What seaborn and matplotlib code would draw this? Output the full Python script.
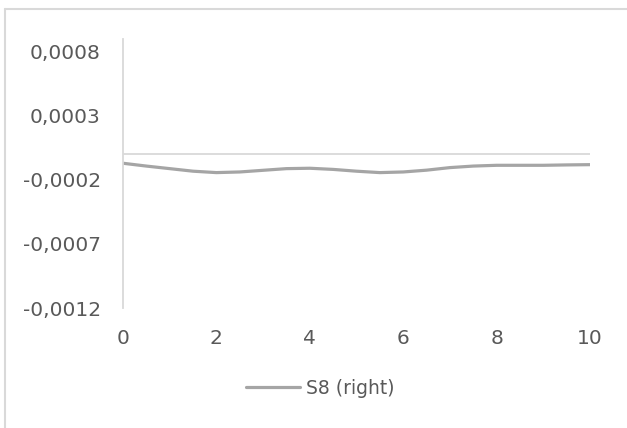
#!/usr/bin/python3

import numpy as np
import pandas as pd
import matplotlib
matplotlib.use("Agg")
import matplotlib.pyplot as plt
import seaborn as sns
from matplotlib.lines import Line2D
from matplotlib.ticker import FuncFormatter

# values
x_values = [0, 0.5, 1, 1.5, 2, 2.5, 3, 3.5, 4, 4.5, 5,
            5.5, 6, 6.5, 7, 7.5, 8, 8.5, 9, 9.5, 10]
s8_values = [-0.000070, -0.000092, -0.000112, -0.000132, -0.000143, -0.000138,
             -0.000125, -0.000112, -0.000109, -0.000118, -0.000132, -0.000143,
             -0.000138, -0.000124, -0.000104, -0.000092, -0.000086, -0.000086,
             -0.000086, -0.000083, -0.000081]
series_name = "S8 (right)"
y_ticks = [-0.0012, -0.0007, -0.0002, 0.0003, 0.0008]
x_ticks = [0, 2, 4, 6, 8, 10]

df = pd.DataFrame({"x": x_values, "y": s8_values})

sns.set_style("white")
plt.rcParams["font.family"] = ["DejaVu Sans"]

text_color = "#595959"
axis_color = "#d9d9d9"
line_color = "#a5a5a5"

fig = plt.figure(figsize=(6.27, 4.28), dpi=100)
ax = fig.add_axes([123 / 627, 1 - 308 / 428, (590 - 123) / 627, (308 - 39) / 428])

sns.lineplot(data=df, x="x", y="y", ax=ax, color=line_color, linewidth=2.3)

ax.axhline(0, color=axis_color, linewidth=1.3, zorder=1)

ax.set_xlim(0, 10)
ax.set_ylim(-0.0012, 0.0009)
ax.set_xticks(x_ticks)
ax.set_yticks(y_ticks)
ax.yaxis.set_major_formatter(FuncFormatter(lambda v, p: f"{v:.4f}".replace(".", ",")))
ax.set_xlabel("")
ax.set_ylabel("")

for side in ["top", "right", "bottom"]:
    ax.spines[side].set_visible(False)
ax.spines["left"].set_color(axis_color)
ax.spines["left"].set_linewidth(1.3)

ax.tick_params(axis="x", length=0, pad=15, labelsize=14.5, labelcolor=text_color)
ax.tick_params(axis="y", length=0, pad=16, labelsize=14.5, labelcolor=text_color)

handle = Line2D([], [], color=line_color, linewidth=2.3)
fig.legend([handle], [series_name], loc="center", bbox_to_anchor=(320 / 627, 1 - 388 / 428),
           frameon=False, fontsize=13.5, labelcolor=text_color,
           handlelength=2.9, handletextpad=0.3)

# chart area border (left and top edges visible)
fig.add_artist(Line2D([5 / 627, 5 / 627], [0, 1 - 9 / 428], color=axis_color, linewidth=1.5,
                      transform=fig.transFigure))
fig.add_artist(Line2D([5 / 627, 1], [1 - 9 / 428, 1 - 9 / 428], color=axis_color, linewidth=1.5,
                      transform=fig.transFigure))

fig.savefig("out.png", dpi=100)
